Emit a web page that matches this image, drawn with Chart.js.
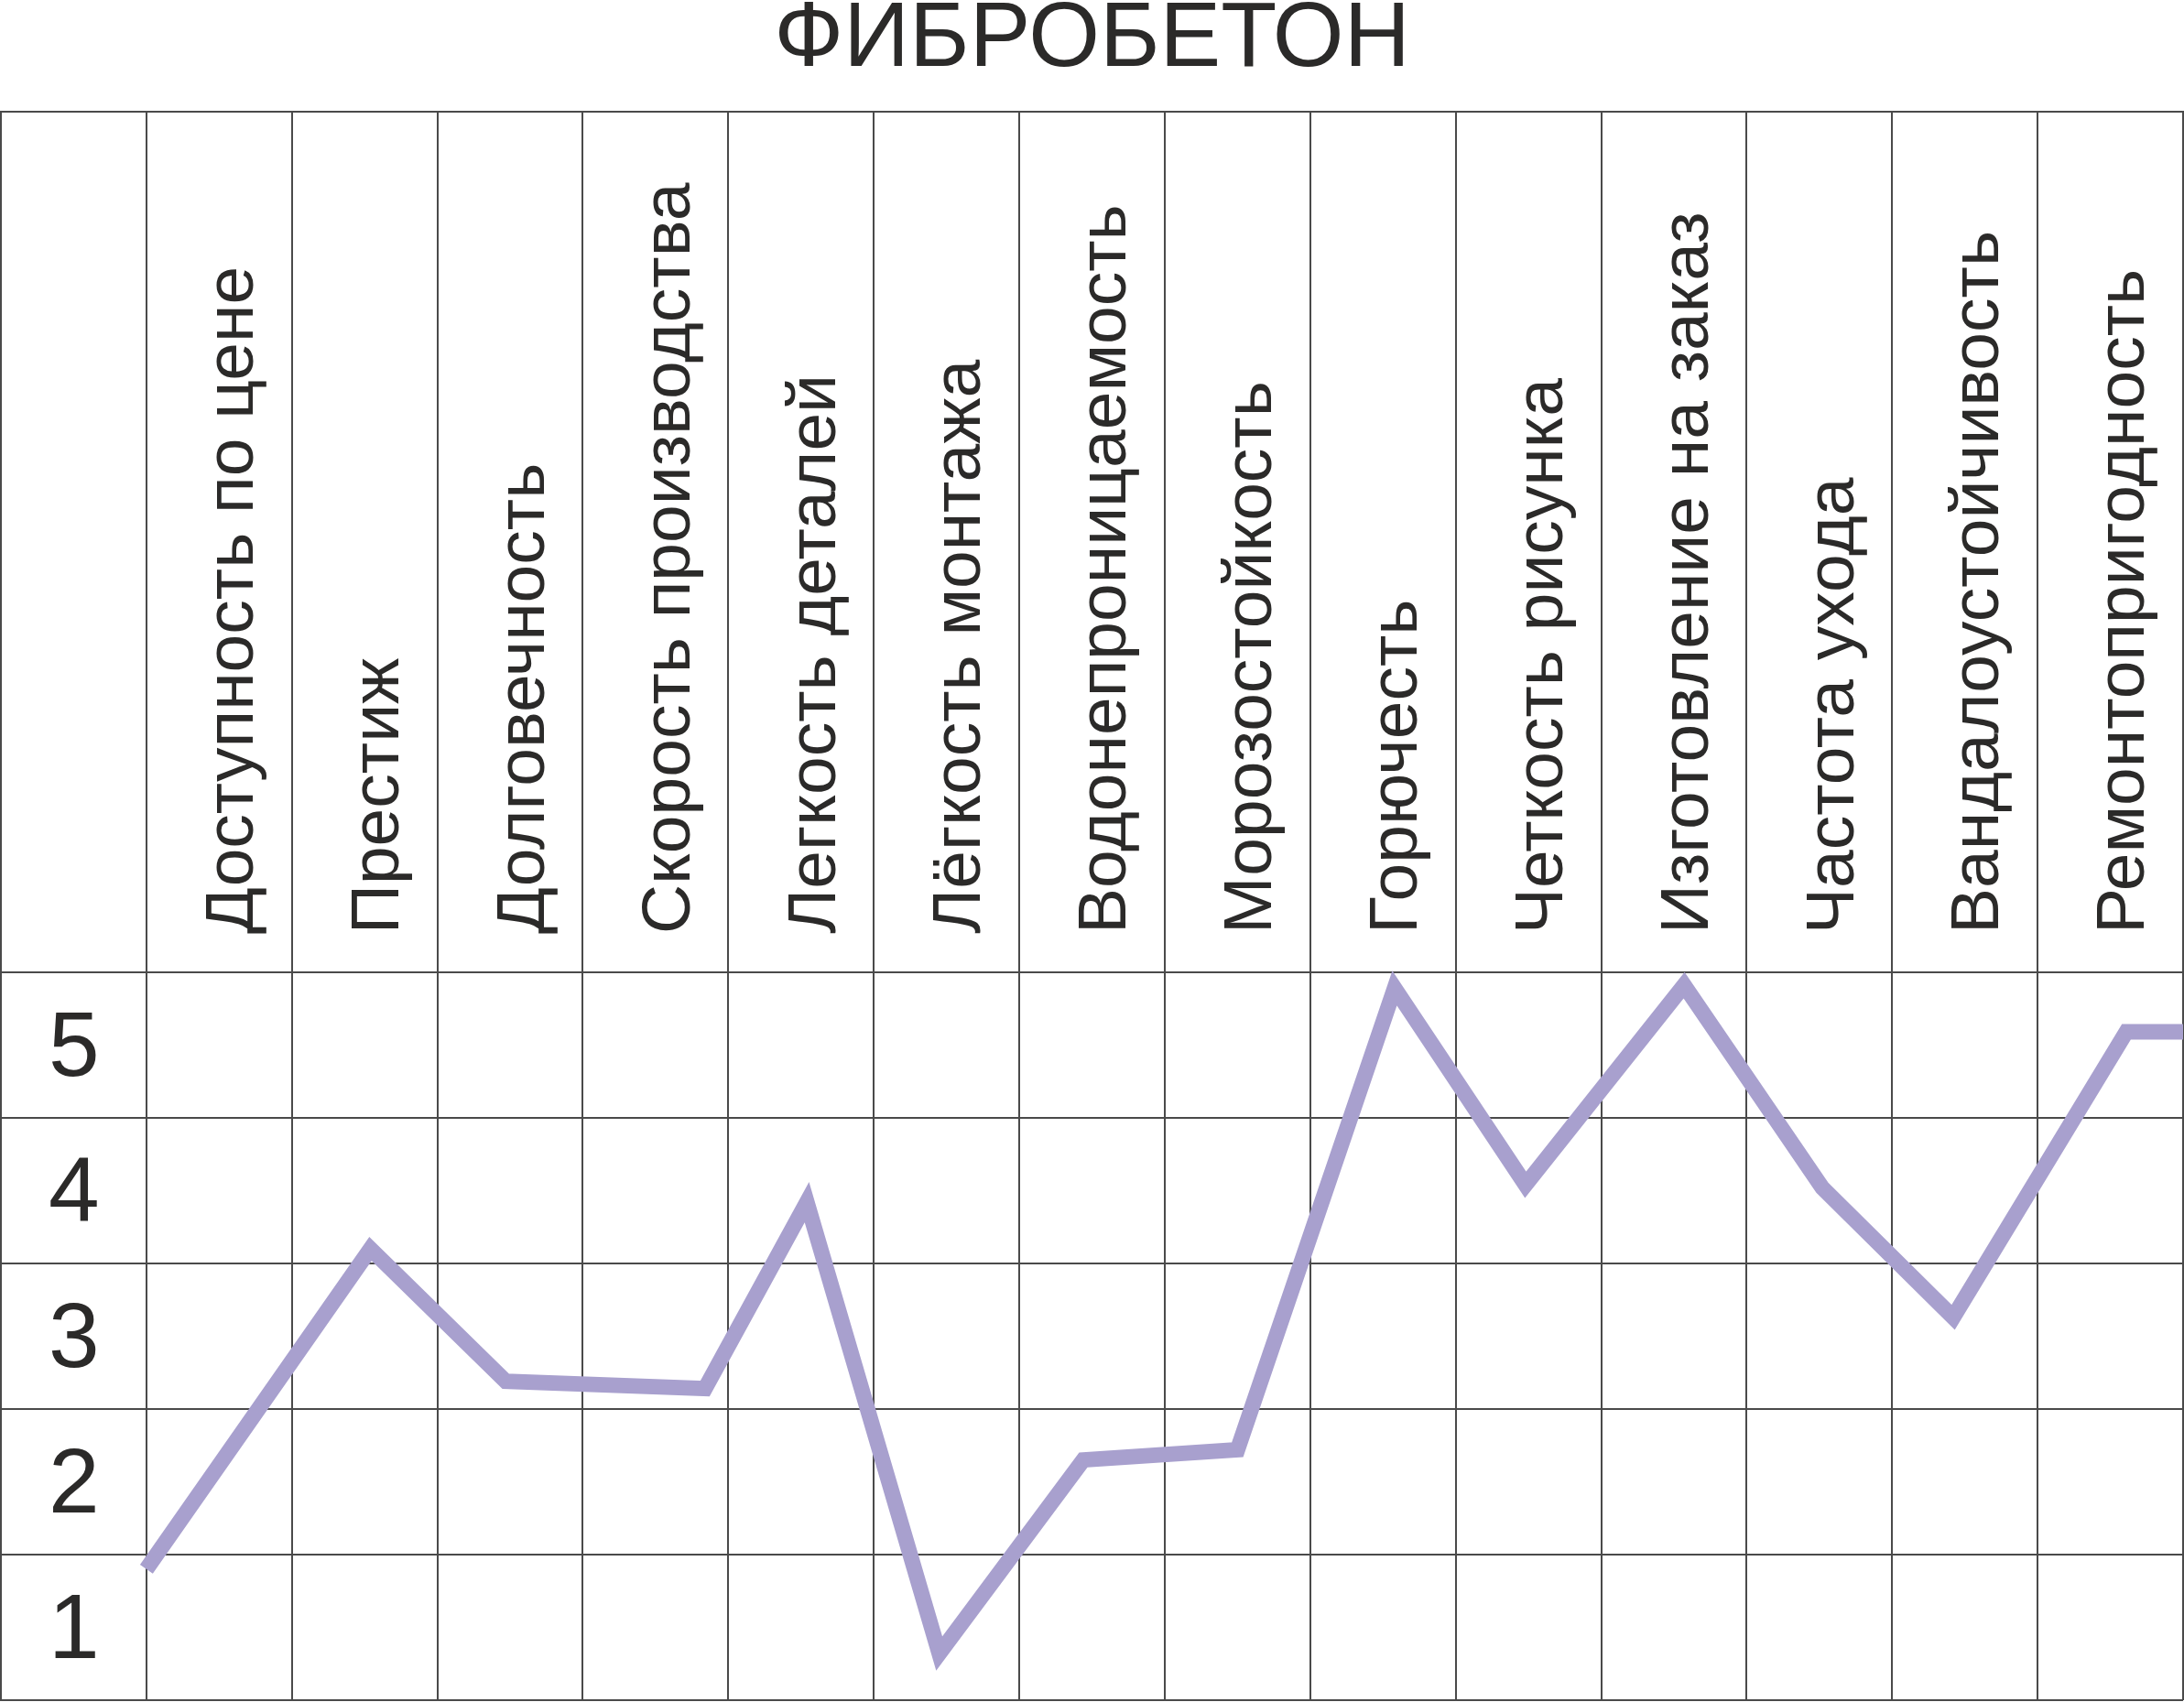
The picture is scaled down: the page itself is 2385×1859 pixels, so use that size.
<!DOCTYPE html>
<html>
<head>
<meta charset="utf-8">
<script src="https://cdn.jsdelivr.net/npm/chart.js@4.4.1/dist/chart.umd.min.js"></script>
<style>
  body { margin: 0; background: #fff; }
</style>
</head>
<body>
<canvas id="chart" width="2385" height="1859"></canvas>
<script>
// Column headers (the first column holds the row numbers)
const categories = [
  "Доступность по цене",
  "Престиж",
  "Долговечность",
  "Скорость производства",
  "Легкость деталей",
  "Лёгкость монтажа",
  "Водонепроницаемость",
  "Морозостойкость",
  "Горючесть",
  "Четкость рисунка",
  "Изготовление на заказ",
  "Частота ухода",
  "Вандалоустойчивость",
  "Ремонтопригодность",
];
const rowLabels = ["1", "2", "3", "4", "5"];

// vertices of the line, x in columns, y in rows
const pointX = [1.0, 2.54, 3.47, 4.84, 5.54, 6.45, 7.44, 8.5, 9.58, 10.48, 11.57, 12.52, 13.42, 14.61, 15.0];
const scores = [0.9, 3.1, 2.19, 2.14, 3.42, 0.32, 1.65, 1.72, 4.89, 3.54, 4.91, 3.52, 2.63, 4.59, 4.59];

const ink = "#2b2a29";
const gridColor = "#4a4a4a";
const cell = 159; // one column / row in px
const headerRows = 5.91; // height of the header band, in rows

// keep the axes out of the layout, labels are drawn inside the table
const flatten = function (scale, horizontal) {
  if (horizontal) scale.height = 0;
  else scale.width = 0;
  scale.paddingTop = 0;
  scale.paddingBottom = 0;
  scale.paddingLeft = 0;
  scale.paddingRight = 0;
};

const ctx = document.getElementById("chart").getContext("2d");

new Chart(ctx, {
  type: "line",
  data: {
    datasets: [
      {
        data: pointX.map((x, i) => ({ x: x, y: scores[i] })),
        borderColor: "#a8a0ce",
        borderWidth: 17,
        borderJoinStyle: "miter",
        borderCapStyle: "butt",
        pointRadius: 0,
        tension: 0,
        fill: false,
      },
    ],
  },
  options: {
    responsive: false,
    animation: false,
    layout: { padding: { left: 1, right: 1, top: 0, bottom: 2 } },
    plugins: {
      legend: { display: false },
      tooltip: { enabled: false },
      title: {
        display: true,
        text: "ФИБРОБЕТОН",
        color: ink,
        font: { family: "'Liberation Sans', Arial", size: 100, weight: "normal", lineHeight: 0.8 },
        padding: { top: 4, bottom: 38 },
      },
    },
    scales: {
      x: {
        type: "linear",
        position: "top",
        min: 0,
        max: categories.length + 1,
        afterFit: (s) => flatten(s, true),
        ticks: {
          stepSize: 1,
          autoSkip: false,
          minRotation: 90,
          maxRotation: 90,
          mirror: true,
          labelOffset: cell / 2 + 16,
          padding: 898,
          color: ink,
          font: { family: "'Liberation Sans', Arial", size: 75 },
          callback: (v) => categories[v - 1] || "",
        },
        grid: { color: gridColor, lineWidth: 2, drawTicks: false },
        border: { color: gridColor, width: 2 },
      },
      y: {
        type: "linear",
        min: 0,
        max: rowLabels.length + headerRows,
        afterBuildTicks: (s) => {
          s.ticks = [0, 1, 2, 3, 4, 5].map((v) => ({ value: v }));
        },
        afterFit: (s) => flatten(s, false),
        ticks: {
          mirror: true,
          crossAlign: "center",
          padding: 52,
          labelOffset: -cell / 2 + 6,
          color: ink,
          font: { family: "'Liberation Sans', Arial", size: 100 },
          callback: (v) => rowLabels[v] || "",
        },
        grid: { color: gridColor, lineWidth: 2, drawTicks: false },
        border: { color: gridColor, width: 2 },
      },
    },
  },
});
</script>
</body>
</html>
